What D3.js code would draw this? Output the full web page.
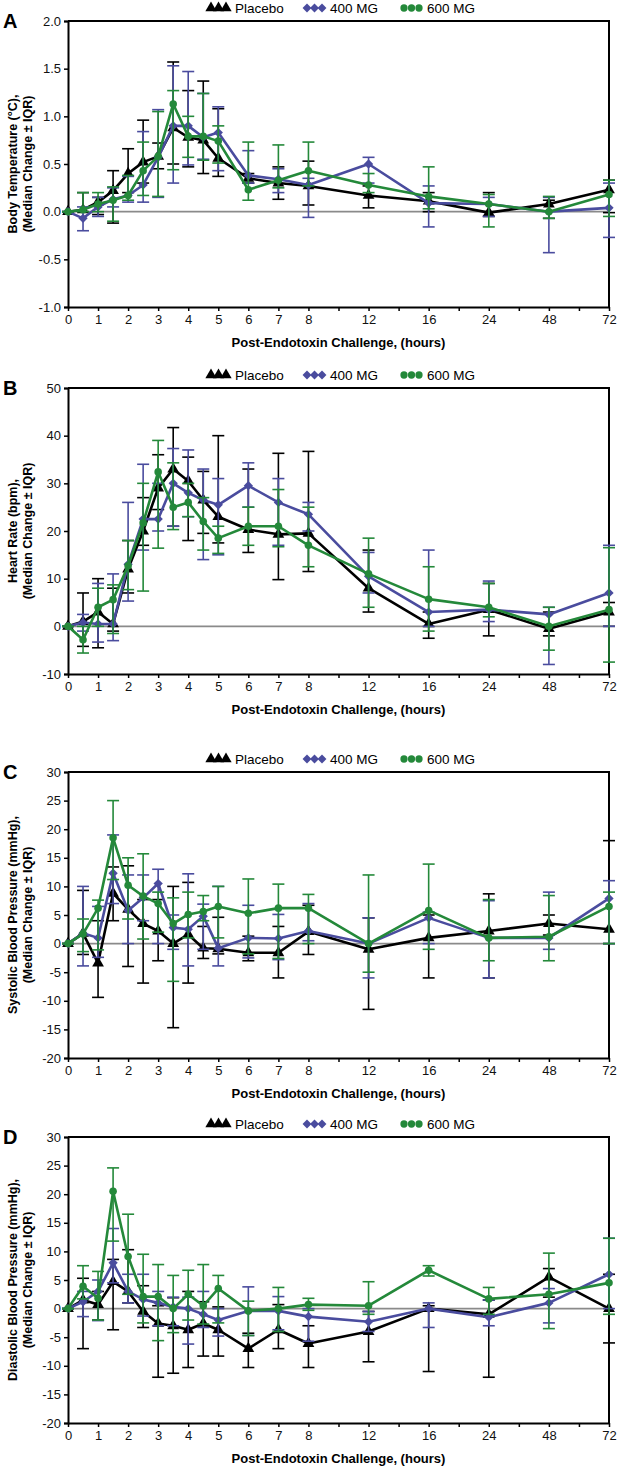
<!DOCTYPE html>
<html>
<head>
<meta charset="utf-8">
<script src="https://cdn.jsdelivr.net/npm/d3@7"></script>
<style>
  body { margin: 0; background: #fff; }
  text { font-family: "Liberation Sans", Arial, sans-serif; }
</style>
</head>
<body>
<svg id="chart" width="619" height="1472"></svg>
<script>
// sampling times (hours after endotoxin)
const hours = [0, 0.5, 1, 1.5, 2, 2.5, 3, 3.5, 4, 4.5, 5, 6, 7, 8, 12, 16, 24, 48, 72]
// x axis is broken: equal spacing between these hours
const breakHours = [0, 8, 12, 16, 24, 48, 72]
const breakSlots = [0, 16, 20, 24, 28, 32, 36]
const tickHours = [0, 1, 2, 3, 4, 5, 6, 7, 8, 10, 12, 14, 16, 20, 24, 36, 48, 60, 72]
const tickLabels = ['0', '1', '2', '3', '4', '5', '6', '7', '8', '', '12', '', '16', '', '24', '', '48', '', '72']

const seriesNames = ['Placebo', '400 MG', '600 MG']
const seriesColors = ['#000000', '#4a4c9e', '#24893a']
const seriesShapes = ['triangle', 'diamond', 'circle']

// each point is [median, q1, q3]
const tempPlacebo = [[0,0,0],[0.02,0,0.2],[0.1,-0.03,0.15],[0.22,-0.12,0.43],[0.4,0.2,0.66],[0.52,0.3,0.96],[0.58,0.45,0.72],[0.88,0.5,1.57],[0.78,0.47,1.27],[0.75,0.4,1.37],[0.56,0.37,1.08],[0.35,0.3,0.4],[0.3,0.13,0.47],[0.27,0.07,0.53],[0.17,0.04,0.27],[0.11,0,0.2],[-0.01,-0.05,0.2],[0.08,-0.07,0.12],[0.23,-0.01,0.33]]
const temp400 = [[0,0,0],[-0.07,-0.2,0.05],[0.05,-0.05,0.15],[0.13,0.05,0.25],[0.17,0.1,0.37],[0.28,0.1,0.84],[0.57,0.15,1.07],[0.9,0.3,1.53],[0.9,0.49,1.47],[0.78,0.55,1.24],[0.83,0.43,1.1],[0.38,0.3,0.64],[0.34,0.2,0.45],[0.28,-0.06,0.35],[0.5,0.3,0.57],[0.09,-0.16,0.27],[0.08,-0.05,0.15],[0,-0.43,0.15],[0.04,-0.27,0.3]]
const temp600 = [[0,0,0],[0.02,0,0.2],[0.08,0,0.2],[0.12,-0.1,0.26],[0.17,0.12,0.38],[0.43,0.17,0.73],[0.58,0.16,1.05],[1.13,0.44,1.27],[0.79,0.57,1],[0.79,0.54,1.24],[0.74,0.51,0.9],[0.23,0.12,0.73],[0.33,0.25,0.7],[0.43,0.27,0.73],[0.28,0.2,0.4],[0.16,0.03,0.47],[0.08,-0.16,0.18],[0,-0.07,0.16],[0.18,-0.05,0.33]]

const hrPlacebo = [[0,0,0],[1,-4.2,7],[3,-4.5,10],[0.5,-1,8],[12,7,18],[20,17,27],[29,24.5,36],[33,21,41.7],[30.5,18,35.5],[26.5,19.5,32.5],[23,17.5,40],[20.3,15.5,33],[19.3,9.8,36.3],[19.5,11.5,36.7],[8,3,16],[0.5,-2.5,3],[3.5,-2,9],[-0.5,-2,3],[3,0,5]]
const hr400 = [[0,0,0],[0.8,-1,2.5],[0.5,-3.3,9],[0.5,-3,11],[13,5.3,26],[22.5,16,34],[22.5,20,30],[30,21,37.3],[28,23,37],[26.5,14,33],[25.5,15,31],[29.5,25,34.3],[26,17,31],[23.5,20,26],[10.5,7,15.5],[3,0,16],[3.5,1,9.5],[2.5,-8,4],[7,0,17]]
const hr600 = [[0,0,0],[-2.8,-5.6,0],[4,0,8],[5.6,-1.5,8.7],[12.7,7.7,18],[21.7,7.4,30],[32.4,16.4,39],[25,20.3,34.3],[26,23,30],[22,16,27],[18.5,15.3,21],[21,17,25],[21,16.7,28.7],[17,12.5,25],[11,4,18.5],[5.7,-1,12.5],[4,2,9],[0,-5,4],[3.5,-7.5,16.5]]

const sbpPlacebo = [[0,0,0],[1.8,-1.9,9.3],[-3.4,-9.4,4],[8.8,4,13.4],[6,-4,13.6],[3.5,-6.9,7.7],[2.2,-3,7.7],[0,-14.7,10],[1.6,-6.9,10.7],[-0.8,-2.6,3],[-0.9,-1.8,4.6],[-1.6,-3,1.3],[-1.6,-6,3],[2.1,-1.9,6.7],[-1,-11.5,4.5],[1,-6,5],[2.2,-6,8.7],[3.5,1.5,5],[2.5,0,18]]
const sbp400 = [[0,0,0],[1.8,-3.9,10],[1,-2.4,6.5],[12.3,7,19],[5.8,0,12],[8,4,12],[10.5,0,13],[2.8,-1,5],[2.5,-3.9,12.2],[4.8,-1,6.9],[-0.8,-3.9,10],[1,-2.5,6.7],[0.9,-2.8,5.1],[2.2,0.5,7],[0,-6,4.5],[4.5,0,5.5],[1,-6,7.5],[1,-1,9],[7.9,0,11]]
const sbp600 = [[0,0,0],[1.7,-1.4,4.3],[6.2,-1.1,7.6],[18.5,11.2,25],[10.2,4.3,15],[8.3,0.8,15.7],[7,2,9],[3.5,-6.6,8],[5.1,1,9],[5.6,4,8.4],[6.5,1,10],[5.3,-1.8,11.3],[6.2,-2.6,10.4],[6.2,0,8.6],[0,-5,12],[5.8,-1,13.9],[1,-3,7.7],[1.2,-3,8.4],[6.5,0,9]]

const dbpPlacebo = [[0,0,0],[1.5,-7,5.3],[0.7,-2,3],[4.7,-3.7,8.6],[3,1,10.3],[-0.5,-3.3,4],[-2.6,-12,0.5],[-3,-11.3,1.9],[-3.7,-10.3,3],[-2.6,-8.3,1.2],[-3.7,-8.3,0.3],[-7,-10.3,-4.3],[-3.7,-7,0.7],[-6.1,-10.3,-3],[-4,-9.3,-0.5],[0,-11,0.5],[-1,-12,1.5],[5.5,2,7],[0,-6,6]]
const dbp400 = [[0,0,0],[1.2,-1.4,3],[3,-2.1,5],[8,4.5,14],[3,1,6],[1.6,-1.3,6],[1,-3,3],[0.3,-3,2],[0,-6.2,2],[-1,-3.3,3],[-2,-4.8,0],[-0.4,-4.7,3.8],[-0.4,-3.7,2.1],[-1.4,-5.7,0],[-2.3,-4,-0.5],[0,-3.3,1],[-1.5,-3,1.5],[1,-2.5,3.5],[6,0,12.3]]
const dbp600 = [[0,0,0],[3.9,1.7,7.5],[1.8,-2,6.5],[20.5,11.8,24.6],[9.1,2.5,16.5],[2.1,-2.5,9.5],[2.1,-5.6,7.7],[0,-4.2,5.8],[2.5,-2,6.7],[0.5,-2.7,7.7],[3.5,-2.5,5.8],[-0.4,-4.7,1.3],[0,-4,3.7],[0.7,-0.3,1.8],[0.5,-1,4.7],[6.7,5.7,7.5],[1.7,-1,3.7],[2.5,-3.5,9.7],[4.5,-1,12.3]]

const panelLetters = ['A', 'B', 'C', 'D']
const panelTitles = [
    ['Body Temperature (°C),', '(Median Change ± IQR)'],
    ['Heart Rate (bpm),', '(Median Change ± IQR)'],
    ['Systolic Blood Pressure (mmHg),', '(Median Change ± IQR)'],
    ['Diastolic Blood Pressure (mmHg),', '(Median Change ± IQR)'],
]
const panelDomains = [[-1, 2], [-10, 50], [-20, 30], [-20, 30]]
const panelSteps = [0.5, 10, 5, 5]
const panelFormats = ['.1f', 'd', 'd', 'd']
const panelData = [
    [tempPlacebo, temp400, temp600],
    [hrPlacebo, hr400, hr600],
    [sbpPlacebo, sbp400, sbp600],
    [dbpPlacebo, dbp400, dbp600],
]
const xTitle = 'Post-Endotoxin Challenge, (hours)'

// layout
const plotLeft = 68
const plotRight = 609
const plotHeight = 286
const panelTops = [21, 388, 772, 1137]

const svg = d3.select('#chart')

const x = d3.scaleLinear()
    .domain(breakHours)
    .range(breakSlots.map(s => plotLeft + s * (plotRight - plotLeft) / 36))

function markerPath(shape, size) {
    if (shape === 'triangle') return d3.symbol(d3.symbolTriangle, size * 1.2)()
    if (shape === 'diamond') return d3.symbol(d3.symbolDiamond2, size * 1.1)()
    return d3.symbol(d3.symbolCircle, size * 0.9)()
}

function drawPanel(p) {
    let top = panelTops[p]
    let bottom = top + plotHeight
    let g = svg.append('g')

    let y = d3.scaleLinear()
        .domain(panelDomains[p])
        .range([bottom, top])

    let yTicks = d3.range(panelDomains[p][0], panelDomains[p][1] + panelSteps[p] / 2, panelSteps[p])
    let fmt = d3.format(panelFormats[p])

    // frame (top and right)
    g.append('path')
        .attr('d', `M${plotLeft},${top}H${plotRight}V${bottom}`)
        .attr('fill', 'none')
        .attr('stroke', '#000')
        .attr('stroke-width', 2)

    // zero line
    g.append('line')
        .attr('x1', plotLeft).attr('x2', plotRight)
        .attr('y1', y(0)).attr('y2', y(0))
        .attr('stroke', '#8a8a8a')
        .attr('stroke-width', 1.6)

    let yAxis = g.append('g')
        .attr('transform', `translate(${plotLeft},0)`)
        .call(d3.axisLeft(y).tickValues(yTicks).tickFormat(d => fmt(d).replace('−', '-')).tickSize(4).tickPadding(3))
    yAxis.select('.domain').attr('stroke-width', 2)
    yAxis.selectAll('.tick line').attr('stroke-width', 1.5)
    yAxis.selectAll('text').style('font-size', '13px').attr('fill', '#111')

    let xAxis = g.append('g')
        .attr('transform', `translate(0,${bottom})`)
        .call(d3.axisBottom(x).tickValues(tickHours).tickFormat((d, i) => tickLabels[i]).tickSize(4).tickSizeOuter(0).tickPadding(4))
    xAxis.select('.domain').attr('stroke-width', 2)
    xAxis.selectAll('.tick line').attr('stroke-width', 1.5)
    xAxis.selectAll('text').style('font-size', '13px').attr('fill', '#111')

    // series: error bars, line, markers
    panelData[p].forEach((series, s) => {
        let color = seriesColors[s]
        let pts = series.map((v, i) => ({ h: hours[i], med: v[0], lo: v[1], hi: v[2] }))

        let bars = g.append('g')
            .selectAll('g')
            .data(pts)
            .join('g')
            .attr('stroke', color)
            .attr('stroke-width', 1.6)
        bars.append('line')
            .attr('x1', d => x(d.h)).attr('x2', d => x(d.h))
            .attr('y1', d => y(d.lo)).attr('y2', d => y(d.hi))
        bars.append('line')
            .attr('x1', d => x(d.h) - 6).attr('x2', d => x(d.h) + 6)
            .attr('y1', d => y(d.lo)).attr('y2', d => y(d.lo))
        bars.append('line')
            .attr('x1', d => x(d.h) - 6).attr('x2', d => x(d.h) + 6)
            .attr('y1', d => y(d.hi)).attr('y2', d => y(d.hi))

        g.append('path')
            .datum(pts)
            .attr('fill', 'none')
            .attr('stroke', color)
            .attr('stroke-width', 2.6)
            .attr('stroke-linejoin', 'round')
            .attr('d', d3.line().x(d => x(d.h)).y(d => y(d.med)))

        g.append('g')
            .selectAll('path')
            .data(pts)
            .join('path')
            .attr('transform', d => `translate(${x(d.h)},${y(d.med)})`)
            .attr('d', markerPath(seriesShapes[s], 50))
            .attr('fill', color)
    })

    // legend
    let legendX = [207, 303, 400]
    let textX = [235, 330, 427]
    let ly = top - 13
    seriesNames.forEach((name, s) => {
        for (let k = 0; k < 3; k++) {
            g.append('path')
                .attr('transform', `translate(${legendX[s] + 4 + k * 7.5},${ly})`)
                .attr('d', markerPath(seriesShapes[s], 46))
                .attr('fill', seriesColors[s])
        }
        g.append('text')
            .attr('x', textX[s])
            .attr('y', ly + 5)
            .style('font-size', '13.5px')
            .text(name)
    })

    // panel letter
    g.append('text')
        .attr('x', 3)
        .attr('y', top + 7)
        .style('font-size', '20px')
        .style('font-weight', 'bold')
        .text(panelLetters[p])

    // y title, two lines
    let yMid = (top + bottom) / 2
    panelTitles[p].forEach((line, k) => {
        g.append('text')
            .attr('transform', `translate(${17 + k * 15},${yMid}) rotate(-90)`)
            .attr('text-anchor', 'middle')
            .style('font-size', '12.5px')
            .style('font-weight', 'bold')
            .text(line)
    })

    // x title
    g.append('text')
        .attr('x', (plotLeft + plotRight) / 2)
        .attr('y', bottom + 40)
        .attr('text-anchor', 'middle')
        .style('font-size', '13px')
        .style('font-weight', 'bold')
        .text(xTitle)
}

panelLetters.forEach((l, p) => drawPanel(p))
</script>
</body>
</html>
